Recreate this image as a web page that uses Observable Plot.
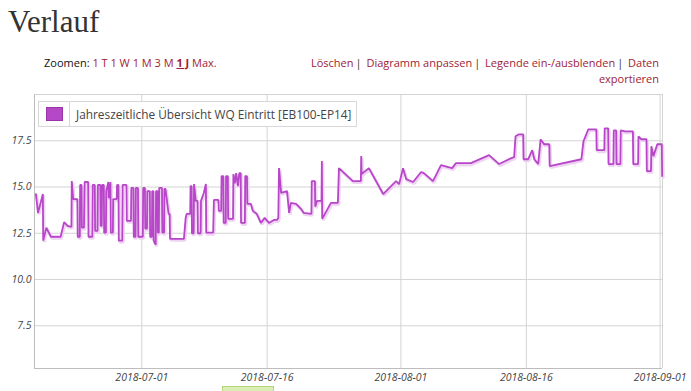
<!DOCTYPE html>
<html><head><meta charset="utf-8">
<script src="https://cdn.jsdelivr.net/npm/d3@7"></script>
<script src="https://cdn.jsdelivr.net/npm/@observablehq/plot@0.6"></script>
<style>
body{margin:0;background:#fff;width:691px;height:391px;overflow:hidden;position:relative;font-family:"Open Sans",sans-serif;}
#title{position:absolute;left:8px;top:4px;font-family:"Liberation Serif",serif;font-size:31px;color:#333;line-height:36px;}
#zoom{position:absolute;left:44px;top:55px;font-size:11px;line-height:16px;color:#111;white-space:nowrap;}
.lk{color:#a01c34;}
.sel{font-weight:bold;text-decoration:underline;}
#tools{position:absolute;right:32px;top:55px;font-size:11px;text-align:right;line-height:16px;color:#a01c34;white-space:nowrap;}
.sep{color:#333;margin:0 2px;}
#chart{position:absolute;left:0;top:84px;}
#legend{position:absolute;left:38px;top:101px;width:317px;height:24px;border:1px solid #d8d8d8;background:#fff;display:flex;align-items:center;}
#sw{width:30px;height:24px;border-right:1px solid #d8d8d8;display:flex;align-items:center;justify-content:center;}
#sq{width:15px;height:12px;background:#b548c6;border:1px solid #9a36aa;}
#lt{margin-left:6px;font-size:11.85px;color:#444;white-space:nowrap;}
#btn{position:absolute;left:222px;top:386px;width:50px;height:10px;background:#d8eeb4;border:1px solid #b4d77c;}
</style>
</head>
<body>
<div id="title">Verlauf</div>
<div id="zoom">Zoomen: <span class="lk">1 T</span> <span class="lk">1 W</span> <span class="lk">1 M</span> <span class="lk">3 M</span> <span class="lk sel">1 J</span> <span class="lk">Max.</span></div>
<div id="tools">Löschen<span class="sep">|</span> Diagramm anpassen<span class="sep">|</span> Legende ein-/ausblenden<span class="sep">|</span> Daten<br>exportieren</div>
<div id="chart"></div>
<div id="legend"><div id="sw"><div id="sq"></div></div><div id="lt">Jahreszeitliche Übersicht WQ Eintritt [EB100-EP14]</div></div>
<div id="btn"></div>
<script>
const seriesName = "Jahreszeitliche Übersicht WQ Eintritt [EB100-EP14]";
const xTicks = ["2018-07-01","2018-07-16","2018-08-01","2018-08-16","2018-09-01"];
const yTicks = [7.5, 10.0, 12.5, 15.0, 17.5];
const xDomain = ["06-18 04","09-01 07"];
const yDomain = [5.19, 20.0];
const times = [
"06-18 08","06-18 14","06-19 04","06-19 05","06-19 14","06-20 03","06-21 07","06-21 17","06-22 03","06-22 14",
"06-22 15","06-22 19","06-23 07","06-23 08","06-23 14","06-23 15","06-23 19","06-23 20","06-24 02","06-24 04",
"06-24 14","06-24 15","06-25 02","06-25 03","06-25 09","06-25 10","06-25 17","06-25 18","06-26 01","06-26 02",
"06-26 05","06-26 06","06-26 11","06-26 12","06-26 17","06-26 18","06-27 00","06-27 01","06-27 06","06-27 07",
"06-27 13","06-27 14","06-28 00","06-28 01","06-28 05","06-28 06","06-28 16","06-28 17","06-29 04","06-29 05",
"06-29 17","06-29 18","06-30 00","06-30 01","06-30 06","06-30 07","06-30 13","06-30 14","07-01 03","07-01 04",
"07-01 09","07-01 10","07-01 15","07-01 16","07-01 23","07-02 00","07-02 05","07-02 06","07-02 09","07-02 10",
"07-02 16","07-02 17","07-02 21","07-02 22","07-03 01","07-03 02","07-03 10","07-03 11","07-03 16","07-03 17",
"07-03 20","07-04 05","07-04 08","07-04 09","07-06 01","07-06 06","07-06 09","07-06 19","07-06 20","07-06 23",
"07-07 00","07-07 05","07-07 06","07-07 11","07-07 16","07-07 17","07-08 01","07-08 02","07-08 10","07-08 16",
"07-08 17","07-09 13","07-09 15","07-10 04","07-10 05","07-10 12","07-10 13","07-10 18","07-10 19","07-11 01",
"07-11 02","07-11 07","07-11 08","07-11 22","07-11 23","07-12 03","07-12 07","07-12 12","07-12 16","07-12 20",
"07-12 21","07-13 08","07-13 09","07-13 14","07-13 15","07-14 01","07-14 07","07-14 18","07-15 06","07-15 17",
"07-16 05","07-16 19","07-17 04","07-17 08","07-17 10","07-17 16","07-18 09","07-18 15","07-18 20","07-19 11",
"07-20 01","07-20 09","07-21 07","07-21 08","07-21 17","07-21 18","07-21 23","07-22 12","07-22 13","07-22 14",
"07-23 15","07-24 11","07-24 14","07-26 06","07-27 05","07-27 06","07-27 07","07-28 04","07-29 21","07-31 10",
"07-31 19","08-01 06","08-01 15","08-02 11","08-03 10","08-03 18","08-04 20","08-05 19","08-07 03","08-07 14",
"08-09 09","08-11 13","08-12 18","08-14 05","08-14 13","08-14 17","08-15 03","08-15 15","08-15 16","08-16 05",
"08-16 17","08-16 23","08-17 10","08-17 17","08-18 03","08-18 18","08-18 19","08-22 14","08-22 20","08-23 10",
"08-24 09","08-24 10","08-25 08","08-25 09","08-25 19","08-25 20","08-26 10","08-26 11","08-26 18","08-26 19",
"08-27 06","08-27 07","08-27 20","08-28 18","08-28 19","08-29 09","08-29 10","08-29 18","08-30 09","08-30 10",
"08-30 22","08-30 23","08-31 05","08-31 16","09-01 05","09-01 06"
];
const values = [
14.62,13.6,14.62,12.1,12.8,12.31,12.31,13.1,12.9,12.85,
15.32,14.35,14.35,12.31,12.31,15.11,15.11,12.8,12.8,15.27,
15.27,12.31,12.31,15.11,15.11,12.63,12.63,15.11,15.11,12.9,
12.9,15.11,15.11,12.53,12.53,14.78,15.27,14.4,15.27,12.53,
12.53,14.35,14.35,15.11,15.11,12.1,12.1,15.11,15.11,13.17,
13.17,14.95,14.95,12.31,12.31,14.95,14.95,12.31,12.31,14.95,
14.95,12.75,12.75,14.78,14.78,12.31,12.31,14.78,14.78,12.1,
11.88,14.78,14.78,12.53,12.53,14.95,14.95,12.53,12.53,14.9,
14.9,13.55,13.55,12.2,12.2,13.33,13.55,13.55,15.05,15.05,
12.5,12.5,15.16,14.25,14.25,12.5,12.5,14.25,14.68,15.16,
12.53,12.53,14.3,14.3,13.71,13.71,15.59,15.59,13.06,13.06,
15.59,15.59,13.28,13.28,15.7,15.2,15.75,15.05,15.75,15.75,
13.06,13.06,15.59,15.59,14.09,14.09,13.71,13.55,13.06,13.33,
13.06,13.22,13.22,13.33,16.02,14.68,14.78,13.6,14.14,14.09,
13.82,13.6,13.55,15.32,15.32,13.93,14.25,14.25,16.4,13.28,
14.14,14.14,16.02,15.32,15.32,16.67,15.7,16.02,14.62,15.32,
15.16,16.02,15.43,15.27,15.81,15.75,15.32,16.18,16.02,16.29,
16.29,16.72,16.24,16.56,16.61,17.74,17.85,17.85,16.5,16.5,
16.99,16.5,16.24,17.58,17.31,17.31,16.13,16.5,17.47,18.12,
18.12,16.99,16.99,18.17,18.17,16.24,16.24,18.06,18.06,16.24,
16.24,18.06,18.01,18.01,16.24,16.24,17.74,17.58,17.58,15.86,
15.86,17.2,16.67,17.31,17.31,15.59
];

const parseT = d3.utcParse("%Y-%m-%d %H");
const parseD = d3.utcParse("%Y-%m-%d");
const toDate = s => parseT("2018-" + s);
const data = times.map((t, i) => ({t: toDate(t), v: values[i]}));
const xTickDates = xTicks.map(parseD);
const x0 = toDate(xDomain[0]), x1 = toDate(xDomain[1]);

const chart = Plot.plot({
  width: 691, height: 307,
  marginTop: 10, marginBottom: 23, marginLeft: 34, marginRight: 29,
  style: {fontFamily: "Open Sans, sans-serif", fontSize: "10.5px", fontStyle: "italic", color: "#444", background: "transparent"},
  x: {type: "utc", domain: [x0, x1], label: null},
  y: {domain: yDomain, label: null},
  marks: [
    Plot.ruleX(xTickDates, {stroke: "#d4d4d4"}),
    Plot.ruleY(yTicks, {stroke: "#d4d4d4"}),
    Plot.ruleY([yDomain[1]], {stroke: "#d4d4d4"}),
    Plot.ruleX([x1], {stroke: "#d4d4d4"}),
    Plot.ruleX([x0], {stroke: "#bdbdbd"}),
    Plot.ruleY([yDomain[0]], {stroke: "#bdbdbd"}),
    Plot.line(data, {x: "t", y: "v", stroke: "#efd3f3", strokeWidth: 3, dx: 1, dy: 1.5, strokeLinejoin: "miter"}),
    Plot.line(data, {x: "t", y: "v", stroke: "#b846c9", strokeWidth: 1.8, strokeLinejoin: "miter"}),
    Plot.axisX(xTickDates, {tickSize: 0, tickPadding: 5, tickFormat: d3.utcFormat("%Y-%m-%d"), fill: "#444"}),
    Plot.axisY(yTicks, {tickSize: 0, tickPadding: 3, tickFormat: d3.format(".1f"), fill: "#444"})
  ]
});
document.getElementById("chart").appendChild(chart);
</script>
</body></html>
